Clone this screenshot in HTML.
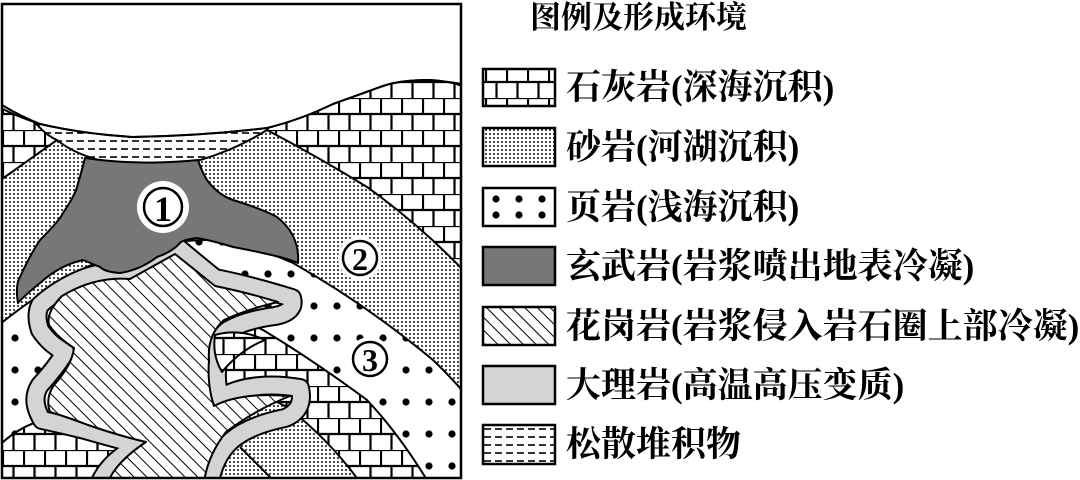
<!DOCTYPE html>
<html><head><meta charset="utf-8"><style>
html,body{margin:0;padding:0;background:#fff;}
body{width:1080px;height:480px;overflow:hidden;position:relative;font-family:"Liberation Serif","Noto Serif CJK SC","Noto Sans CJK SC",serif;}
svg{position:absolute;left:0;top:0;}
.t{position:absolute;font-size:35px;color:#000;white-space:nowrap;line-height:1;font-weight:bold;}
</style></head><body>
<svg width="1080" height="480" viewBox="0 0 1080 480">
<defs>
<pattern id="lime" width="21" height="32" patternUnits="userSpaceOnUse" x="2" y="2">
<rect width="21" height="32" fill="#fff"/>
<path d="M0 0H21M0 16H21M1 0V16M11.5 16V32" stroke="#000" stroke-width="2.2" fill="none"/>
</pattern>
<pattern id="sand" width="4" height="4" patternUnits="userSpaceOnUse">
<rect width="4" height="4" fill="#fff"/><circle cx="2" cy="2" r="0.95" fill="#000"/>
</pattern>
<pattern id="shale" width="23" height="32" patternUnits="userSpaceOnUse" x="4" y="2">
<rect width="23" height="32" fill="#fff"/><circle cx="11" cy="16" r="3.6" fill="#000"/>
</pattern>
<pattern id="gran" width="9" height="9" patternUnits="userSpaceOnUse" patternTransform="rotate(-45)">
<rect width="9" height="9" fill="#fff"/><path d="M0 0V9" stroke="#000" stroke-width="2"/>
</pattern>
<pattern id="loose" width="11" height="8" patternUnits="userSpaceOnUse" y="1">
<rect width="11" height="8" fill="#fff"/><path d="M0 4H7" stroke="#000" stroke-width="1.6"/>
</pattern>
<clipPath id="fr"><rect x="2" y="4" width="459" height="474"/></clipPath>
</defs>
<g clip-path="url(#fr)" stroke="#000" stroke-width="2" stroke-linejoin="round">
<rect x="2" y="4" width="459" height="474" fill="url(#lime)" stroke="none"/>
<path d="M-5 184 L57 140 L160 128 L267 130 Q320 158 367 187 Q420 225 465 272 V485 H-5Z" fill="url(#sand)"/>
<path d="M-5 328 Q40 292 80 270 Q150 238 220 240 Q260 248 293 263 Q367 305 433 360 Q450 376 465 394 V485 H-5Z" fill="url(#shale)"/>
<path d="M-5 450 Q15 428 43 420 Q120 380 200 318 Q235 316 263 330 Q313 360 367 400 Q400 435 430 485 H-5Z" fill="url(#lime)"/>
<path d="M200 385 Q245 385 287 407 Q330 440 362 485 H200Z" fill="url(#sand)"/>
<path d="M240 447 L275 482" fill="none"/>
<path d="M33 120 Q45 135 57 140 Q75 155 110 163 Q160 166 200 160 Q235 150 267 130 L280 110 L30 110Z" fill="url(#loose)"/>
<path d="M-5 -5 H470 V86 Q455 82 430 80 Q400 80 383 86 Q350 98 333 104 Q300 120 267 128 Q200 136 133 137 Q83 134 40 124 Q15 116 -5 105Z" fill="#fff"/>
<g>
<path d="M60 290 Q95 268 130 272 L175 245 Q195 262 215 278 Q250 285 292 298 Q296 312 275 316 Q245 320 228 330 Q215 340 218 360 Q215 380 220 398 Q250 380 300 388 Q305 410 285 418 Q250 425 232 440 Q215 455 210 482 L100 482 Q110 460 140 445 Q120 440 85 430 Q65 425 42 420 Q30 400 40 385 Q58 365 65 352 Q50 345 40 330 Q35 315 40 305 Q50 296 60 290Z" fill="none" stroke="#000" stroke-width="20"/>
<path d="M60 290 Q95 268 130 272 L175 245 Q195 262 215 278 Q250 285 292 298 Q296 312 275 316 Q245 320 228 330 Q215 340 218 360 Q215 380 220 398 Q250 380 300 388 Q305 410 285 418 Q250 425 232 440 Q215 455 210 482 L100 482 Q110 460 140 445 Q120 440 85 430 Q65 425 42 420 Q30 400 40 385 Q58 365 65 352 Q50 345 40 330 Q35 315 40 305 Q50 296 60 290Z" fill="none" stroke="#d4d4d4" stroke-width="16"/>
<path d="M62 296 Q95 276 130 279 L175 254 Q195 270 215 286 Q245 292 278 302 Q245 310 224 320 Q207 335 209 360 Q207 385 214 406 Q240 392 290 396 Q255 410 226 432 Q208 455 204 482 L108 482 Q116 462 146 442 Q120 436 88 425 Q70 418 50 412 Q45 398 54 385 Q72 365 74 348 Q58 338 49 325 Q46 312 62 296Z" fill="url(#gran)"/>
<path d="M215 335 Q240 328 265 340 Q240 350 222 372 Q212 355 215 335Z" fill="url(#lime)"/>
</g>
<path d="M85 158 Q140 166 198 160 Q202 172 207 180 Q218 195 233 200 Q265 210 277 217 Q300 235 298 263 Q285 258 280 257 Q250 250 233 247 Q210 240 197 238 Q182 240 180 243 Q172 252 157 257 Q140 270 120 273 Q105 272 100 267 Q88 262 83 260 Q60 265 40 283 Q25 295 18 303 Q15 285 20 277 Q30 255 40 240 Q60 220 63 213 Q75 195 77 187 Q82 170 85 158Z" fill="#777"/>
</g>
<path d="M2 105 Q20 116 40 124 Q83 134 133 137 Q200 136 267 128 Q300 120 333 104 Q350 98 383 86 Q400 80 430 80 Q455 82 461 86" fill="none" stroke="#000" stroke-width="2"/>
<rect x="2" y="4" width="459" height="474" fill="none" stroke="#000" stroke-width="2.5"/>
<circle cx="163" cy="207" r="26" fill="#fff"/>
<circle cx="163" cy="207" r="19" fill="none" stroke="#000" stroke-width="2.5"/>
<text x="163" y="221" text-anchor="middle" font-family="Liberation Serif, serif" font-weight="bold" font-size="36">1</text>
<circle cx="360" cy="258" r="22" fill="#fff"/>
<circle cx="360" cy="258" r="17" fill="none" stroke="#000" stroke-width="2.5"/>
<text x="360" y="270" text-anchor="middle" font-family="Liberation Serif, serif" font-weight="bold" font-size="32">2</text>
<circle cx="370" cy="359" r="22" fill="#fff"/>
<circle cx="370" cy="359" r="17" fill="none" stroke="#000" stroke-width="2.5"/>
<text x="370" y="371" text-anchor="middle" font-family="Liberation Serif, serif" font-weight="bold" font-size="32">3</text>
<g stroke="#000" stroke-width="2.5">
<rect x="483" y="69" width="72" height="37" fill="url(#lime)"/>
<rect x="483" y="128" width="72" height="38" fill="url(#sand)"/>
<rect x="483" y="188" width="72" height="38" fill="#fff"/>
<rect x="483" y="247" width="72" height="38" fill="#777"/>
<rect x="483" y="307" width="72" height="38" fill="url(#gran)"/>
<rect x="483" y="366" width="72" height="38" fill="#d4d4d4"/>
<rect x="483" y="425" width="72" height="39" fill="url(#loose)"/>
</g>
<g fill="#000"><circle cx="496" cy="199" r="3.6"/><circle cx="519" cy="199" r="3.6"/><circle cx="542" cy="199" r="3.6"/><circle cx="496" cy="215" r="3.6"/><circle cx="519" cy="215" r="3.6"/><circle cx="542" cy="215" r="3.6"/></g>
</svg>
<div class="t" style="left:530px;top:2px;font-size:31px;">图例及形成环境</div>
<div class="t" style="left:566px;top:70px;">石灰岩(深海沉积)</div>
<div class="t" style="left:566px;top:130px;">砂岩(河湖沉积)</div>
<div class="t" style="left:566px;top:190px;">页岩(浅海沉积)</div>
<div class="t" style="left:566px;top:249px;">玄武岩(岩浆喷出地表冷凝)</div>
<div class="t" style="left:566px;top:309px;">花岗岩(岩浆侵入岩石圈上部冷凝)</div>
<div class="t" style="left:566px;top:368px;">大理岩(高温高压变质)</div>
<div class="t" style="left:566px;top:427px;">松散堆积物</div>
</body></html>
